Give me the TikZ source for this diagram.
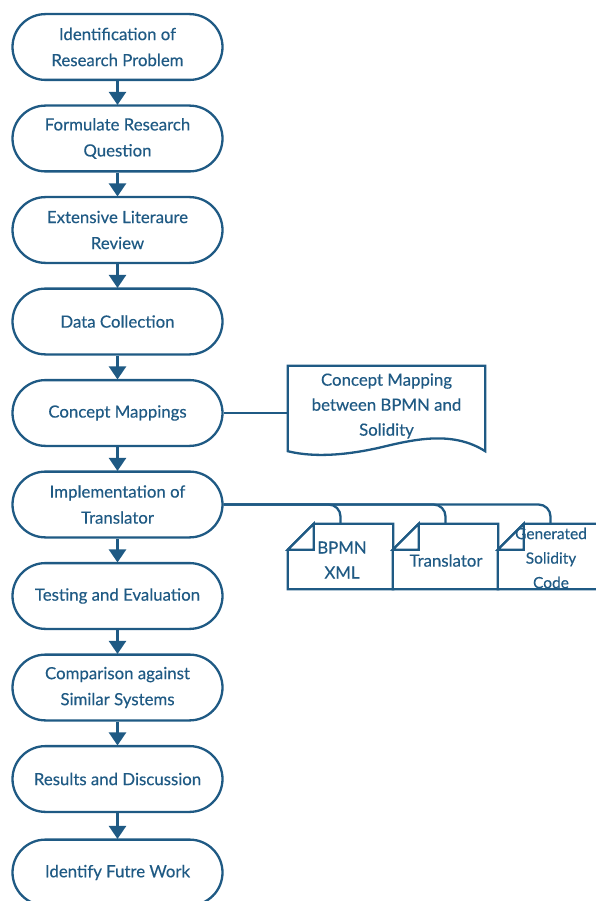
\documentclass[tikz,border=0pt]{standalone}
\usepackage{fontspec}
\setmainfont{Lato}[FakeBold=0.3]
\usetikzlibrary{arrows.meta,calc}
\definecolor{flowblue}{HTML}{1F5A84}
\tikzset{
  stadium/.style={draw=flowblue, line width=2.3pt, rounded corners=32.9pt,
    minimum width=210pt, minimum height=65.8pt, align=center,
    text=flowblue, font=\fontsize{16.8}{26}\selectfont, fill=white},
  flowarrow/.style={draw=flowblue, line width=2.3pt,
    -{Triangle[width=17pt,length=13pt]}, shorten >=-0.5pt},
  link/.style={draw=flowblue, line width=2.3pt},
  docbox/.style={minimum width=197pt, minimum height=86pt, inner sep=0pt},
  cardbox/.style={minimum width=105pt, minimum height=65pt, inner sep=0pt},
  doctext/.style={text=flowblue, align=center, font=\fontsize{16.8}{25}\selectfont},
  outline/.style={draw=flowblue, line width=2.3pt, fill=white, line join=miter},
}
\begin{document}
\begin{tikzpicture}[x=1pt,y=-1pt]
\useasboundingbox (0,0) rectangle (596,901);

% main sequence of stages
\node[stadium] (s1) at (117.5,47)    {Identification of\\Research Problem};
\node[stadium] (s2) at (117.5,138.5) {Formulate Research\\Question};
\node[stadium] (s3) at (117.5,230)   {Extensive Literaure\\Review};
\node[stadium] (s4) at (117.5,321.5) {Data Collection};
\node[stadium] (s5) at (117.5,413)   {Concept Mappings};
\node[stadium] (s6) at (117.5,504.5) {Implementation of\\Translator};
\node[stadium] (s7) at (117.5,596)   {Testing and Evaluation};
\node[stadium] (s8) at (117.5,687.5) {Comparison against\\Similar Systems};
\node[stadium] (s9) at (117.5,779)   {Results and Discussion};
\node[stadium] (s10) at (117.5,872.5) {Identify Futre Work};

\foreach \a/\b in {s1/s2,s2/s3,s3/s4,s4/s5,s5/s6,s6/s7,s7/s8,s8/s9,s9/s10}
  \draw[flowarrow] (\a.south) -- (\b.north);

% document: concept mapping
\node[docbox] (cm) at (386.5,409) {};
\draw[outline] (cm.north west) -- (cm.north east) -- ($(cm.south east)+(0,-1)$)
  .. controls (455,432) and (420,438) .. (386.5,446)
  .. controls (350,455) and (315,458) .. ($(cm.south west)+(0,-1)$) -- cycle;
\node[doctext] at (386.5,406) {Concept Mapping\\between BPMN and\\Solidity};
\draw[link] (s5.east) -- (s5.east -| cm.west);

% folded cards for the translator
\node[cardbox] (bx) at (340.5,556.5) {};
\node[cardbox] (tr) at (445.5,556.5) {};
\node[cardbox] (gc) at (550.5,556.5) {};
\foreach \c in {bx,tr,gc}{
  \draw[outline] (\c.south west) -- ($(\c.north west)+(0,26)$) -- ($(\c.north west)+(26,0)$)
    -- (\c.north east) -- (\c.south east) -- cycle;
  \draw[outline] ($(\c.north west)+(0,26)$) -- ($(\c.north west)+(26,0)$)
    -- ($(\c.north west)+(26,26)$) -- cycle;
}
\node[doctext] at (342,560) {BPMN\\XML};
\node[doctext] at (446,560.5) {Translator};
\node[doctext, font=\fontsize{15.5}{24.5}\selectfont] at (551,558) {Generated\\Solidity\\Code};

\foreach \c in {bx,tr,gc}
  \draw[link, rounded corners=12pt] (s6.east) -| (\c.north);
\end{tikzpicture}
\end{document}
